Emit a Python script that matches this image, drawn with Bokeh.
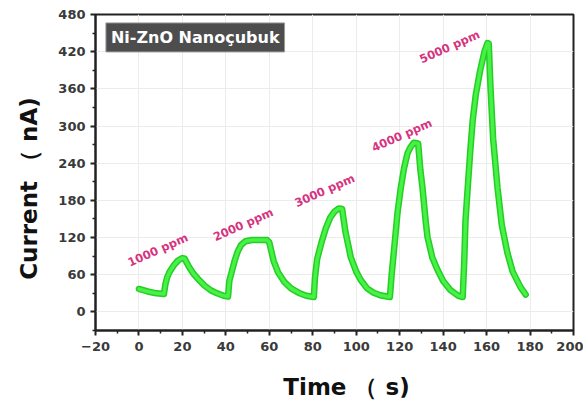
from bokeh.plotting import figure
from bokeh.models import FixedTicker, Label, Range1d
from bokeh.core.properties import value
from bokeh.embed import file_html
from bokeh.resources import INLINE

# ---- data ----
time_s = [0, 4, 8, 11.5, 12.2, 13, 14, 16, 18, 20, 21, 23, 25, 27, 30, 33, 36, 39, 41,
          41.6, 42.5, 44, 45.5, 47, 49, 52, 56, 59, 60, 62, 64, 67, 70, 74, 77, 80.5,
          81, 82, 84, 86, 88, 90, 92, 93.5, 95, 97.5, 100, 102, 105, 108, 111, 115.5,
          116.3, 117.4, 119, 120.5, 122, 123.6, 125, 126.5, 128.5, 129.5, 130.5, 132, 132.8,
          135, 137.4, 140, 143.4, 147, 149,
          149.7, 150.3, 151.5, 152.5, 153.6, 155, 157, 159, 160.4, 161, 161.8, 163, 165,
          167, 169.6, 172, 175.6, 178]
current_nA = [37, 33, 30, 29, 45, 56, 64, 75, 83, 87, 86, 73, 62, 54, 43, 35, 30, 26, 25,
              50, 62, 82, 98, 108, 114, 116, 116, 116, 112, 82, 64, 48, 38, 30, 26, 24,
              55, 85, 112, 135, 152, 162, 167, 166, 130, 88, 65, 52, 38, 31, 27, 24,
              60, 100, 160, 200, 232, 256, 266, 273, 272, 230, 200, 145, 121,
              88, 68, 50, 35, 26, 24,
              80, 148, 210, 260, 309, 350, 389, 420, 434, 433, 362, 280, 201,
              140, 95, 65, 40, 28]

conc_labels = ["1000 ppm", "2000 ppm", "3000 ppm", "4000 ppm", "5000 ppm"]
conc_label_x = [8.7, 48, 85.5, 121, 143]
conc_label_y = [100, 141, 196, 285, 428]

x_ticks = [-20, 0, 20, 40, 60, 80, 100, 120, 140, 160, 180, 200]
x_minor = [-10, 10, 30, 50, 70, 90, 110, 130, 150, 170, 190]
y_ticks = [0, 60, 120, 180, 240, 300, 360, 420, 480]
y_minor = [-30, 30, 90, 150, 210, 270, 330, 390, 450]

title_text = "Ni-ZnO Nanoçubuk"
x_title = "\u00a0\u00a0\u00a0Time （ s)"
y_title = "Current （ nA)\u00a0\u00a0\u00a0\u00a0"

FONT = "DejaVu Sans"

p = figure(width=583, height=402, output_backend="svg", toolbar_location=None,
           x_range=Range1d(-20, 200), y_range=Range1d(-30, 480))
p.min_border_left = 95
p.min_border_right = 10
p.min_border_top = 14
p.min_border_bottom = 72
p.background_fill_color = "white"
p.border_fill_color = "white"
p.outline_line_color = "#222222"
p.outline_line_width = 2

# grid
p.xgrid.ticker = FixedTicker(ticks=x_ticks)
p.ygrid.ticker = FixedTicker(ticks=y_ticks)
for g in (p.xgrid, p.ygrid):
    g.grid_line_color = "#ececec"
    g.grid_line_width = 1

# axes
p.xaxis.ticker = FixedTicker(ticks=x_ticks, minor_ticks=x_minor)
p.yaxis.ticker = FixedTicker(ticks=y_ticks, minor_ticks=y_minor)
for ax in (p.xaxis, p.yaxis):
    ax.axis_line_width = 2
    ax.axis_line_color = "#222222"
    ax.major_tick_line_width = 2
    ax.minor_tick_line_width = 1.5
    ax.major_tick_line_color = "#222222"
    ax.minor_tick_line_color = "#222222"
    ax.major_tick_in = 0
    ax.major_tick_out = 5
    ax.minor_tick_in = 0
    ax.minor_tick_out = 3
    ax.major_label_text_font = FONT
    ax.major_label_text_font_style = "bold"
    ax.major_label_text_font_size = "13px"
    ax.major_label_text_color = "#3a3a3a"
    ax.axis_label_text_font = FONT
    ax.axis_label_text_font_style = "bold"
    ax.axis_label_text_font_size = "23px"
    ax.axis_label_text_color = "#111111"

p.xaxis.axis_label = x_title
p.yaxis.axis_label = y_title
p.xaxis.axis_label_standoff = 20
p.yaxis.axis_label_standoff = 13
p.xaxis.major_label_standoff = 6
p.yaxis.major_label_standoff = 5

# curve
p.line(time_s, current_nA, line_color="#27cc27", line_width=6.5, line_join="round", line_cap="round")
p.line(time_s, current_nA, line_color="#45f245", line_width=3.5, line_join="round", line_cap="round")

# concentration labels
p.text(x=conc_label_x, y=conc_label_y, text=conc_labels, angle=24, angle_units="deg",
       text_align="center", text_baseline="middle", text_color="#d6337f",
       text_font=value(FONT), text_font_style="bold", text_font_size="11.5px")

# title box
title = Label(x=-15.2, y=443, text=title_text, text_align="left", text_baseline="middle",
              text_font=FONT, text_font_style="bold", text_font_size="16px",
              text_color="white", background_fill_color="#4d4d4d",
              border_line_color="#9a9a9a", border_line_width=1, padding=5)
p.add_layout(title)

open("out.html", "w").write(file_html(p, INLINE))
